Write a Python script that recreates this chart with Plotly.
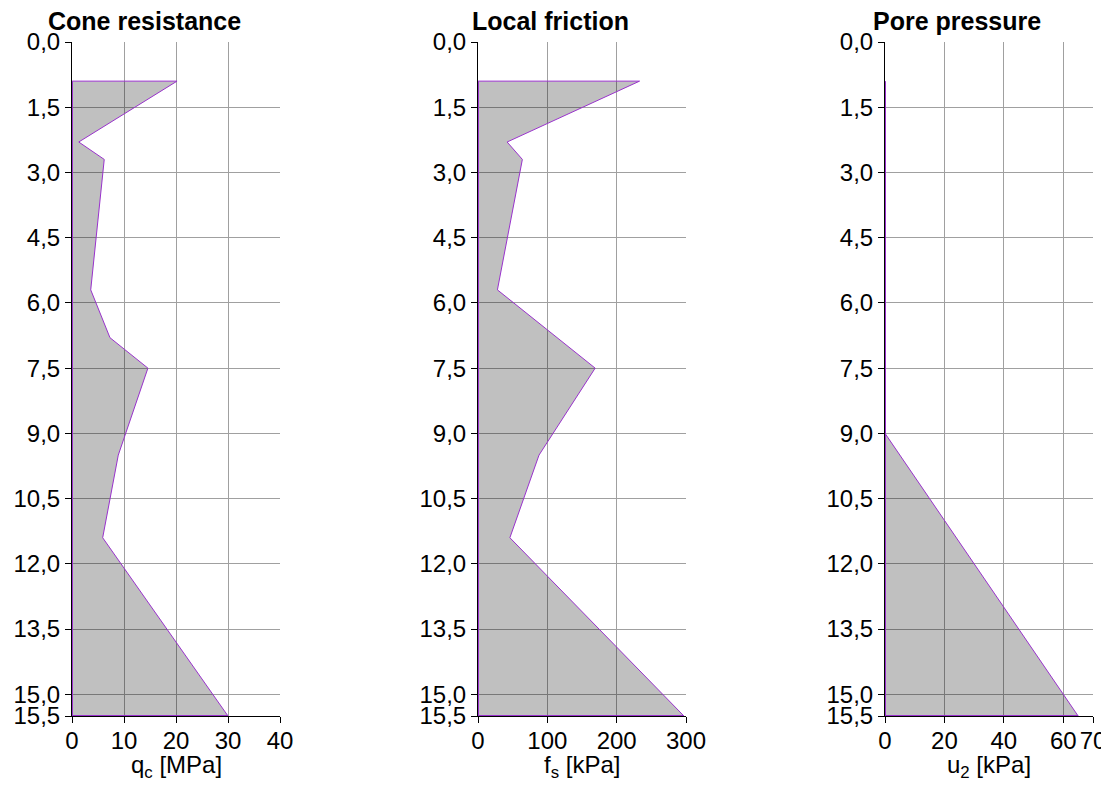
import plotly.graph_objects as go

# ---- data ----
qc_depth = [0.9, 2.3, 2.7, 5.7, 6.8, 7.5, 9.5, 11.4, 15.5]
qc_values = [20.2, 1.3, 6.2, 3.6, 7.3, 14.6, 8.9, 5.9, 30.0]

fs_depth = [0.9, 2.3, 2.7, 5.7, 7.5, 9.5, 11.4, 15.5]
fs_values = [233, 42, 64, 28, 169, 88, 46, 297]

u2_depth = [0.9, 9.0, 15.5]
u2_values = [0, 0, 65]

depth_ticks = [0.0, 1.5, 3.0, 4.5, 6.0, 7.5, 9.0, 10.5, 12.0, 13.5, 15.0, 15.5]
qc_ticks = [0, 10, 20, 30, 40]
fs_ticks = [0, 100, 200, 300]
u2_ticks = [0, 20, 40, 60, 70]

titles = ["Cone resistance", "Local friction", "Pore pressure"]
xlabels = ["q<sub>c</sub> [MPa]", "f<sub>s</sub> [kPa]", "u<sub>2</sub> [kPa]"]
x_ranges = [[0, 40], [0, 300], [0, 70]]

# ---- layout geometry (page has an 8px body margin) ----
OFF = 8
W, H = 1109 - OFF, 787 - OFF
plot_left = [72 - OFF, 478 - OFF, 885 - OFF]
plot_w = 208
top_px, bot_px = 42 - OFF, 716 - OFF

FONT = "Liberation Sans, Arial, sans-serif"
LINE = "#9932CC"
FILL = "rgba(0,0,0,0.247)"
GRID = "#a0a0a0"

fig = go.Figure()

series = [(qc_depth, qc_values), (fs_depth, fs_values), (u2_depth, u2_values)]
for i, (d, v) in enumerate(series):
    xs = [0] + list(v) + [0]
    ys = [d[0]] + list(d) + [d[-1]]
    suffix = "" if i == 0 else str(i + 1)
    ax = dict(xaxis="x" + suffix, yaxis="y" + suffix)
    fig.add_trace(go.Scatter(
        x=xs, y=ys, mode="lines", fill="toself", fillcolor=FILL,
        line=dict(color=LINE, width=1), hoverinfo="skip", showlegend=False,
        **ax,
    ))
    # polygon edges lying on the plot border (half of a stroke is clipped there)
    fig.add_trace(go.Scatter(
        x=[0, 0, v[-1]], y=[d[0], d[-1], d[-1]], mode="lines",
        line=dict(color=LINE, width=2), hoverinfo="skip", showlegend=False,
        **ax,
    ))

layout = dict(
    width=W, height=H,
    margin=dict(l=0, r=0, t=0, b=0, autoexpand=False),
    paper_bgcolor="white", plot_bgcolor="white",
    separators=",.",
    font=dict(family=FONT, size=24, color="black"),
    showlegend=False,
)

xticks_all = [qc_ticks, fs_ticks, u2_ticks]
annotations = []
for i in range(3):
    suffix = "" if i == 0 else str(i + 1)
    x0 = plot_left[i] / W
    x1 = (plot_left[i] + plot_w) / W
    layout["xaxis" + suffix] = dict(
        domain=[x0, x1], range=x_ranges[i], anchor="y" + suffix,
        tickmode="array", tickvals=xticks_all[i],
        showgrid=True, gridcolor=GRID, gridwidth=1,
        showline=True, linecolor="black", linewidth=1,
        ticks="outside", ticklen=6, tickcolor="black",
        zeroline=False, side="bottom", automargin=False,
        layer="below traces", ticklabelstandoff=-3,
        ticklabeloverflow="allow",
        tickfont=dict(size=24),
    )
    layout["yaxis" + suffix] = dict(
        domain=[1 - bot_px / H, 1 - top_px / H],
        range=[15.5, 0], anchor="x" + suffix,
        tickmode="array", tickvals=depth_ticks, tickformat=".1f",
        showgrid=True, gridcolor=GRID, gridwidth=1,
        showline=True, linecolor="black", linewidth=1,
        ticks="outside", ticklen=6, tickcolor="black",
        zeroline=False, automargin=False, layer="below traces",
        ticklabeloverflow="allow",
        tickfont=dict(size=24),
    )
    annotations.append(dict(
        text="<b>" + titles[i] + "</b>", xref="paper", yref="paper",
        x=(plot_left[i] + plot_w / 2 - 32) / W, y=1 - (21 - OFF) / H,
        xanchor="center", yanchor="middle", showarrow=False,
        font=dict(size=25, family=FONT, color="black"),
    ))
    annotations.append(dict(
        text=xlabels[i], xref="paper", yref="paper",
        x=(plot_left[i] + plot_w / 2) / W, y=1 - (766 - OFF) / H,
        xanchor="center", yanchor="middle", showarrow=False,
        font=dict(size=24, family=FONT, color="black"),
    ))
layout["annotations"] = annotations

fig.update_layout(**layout)
fig.write_html("out.html")
